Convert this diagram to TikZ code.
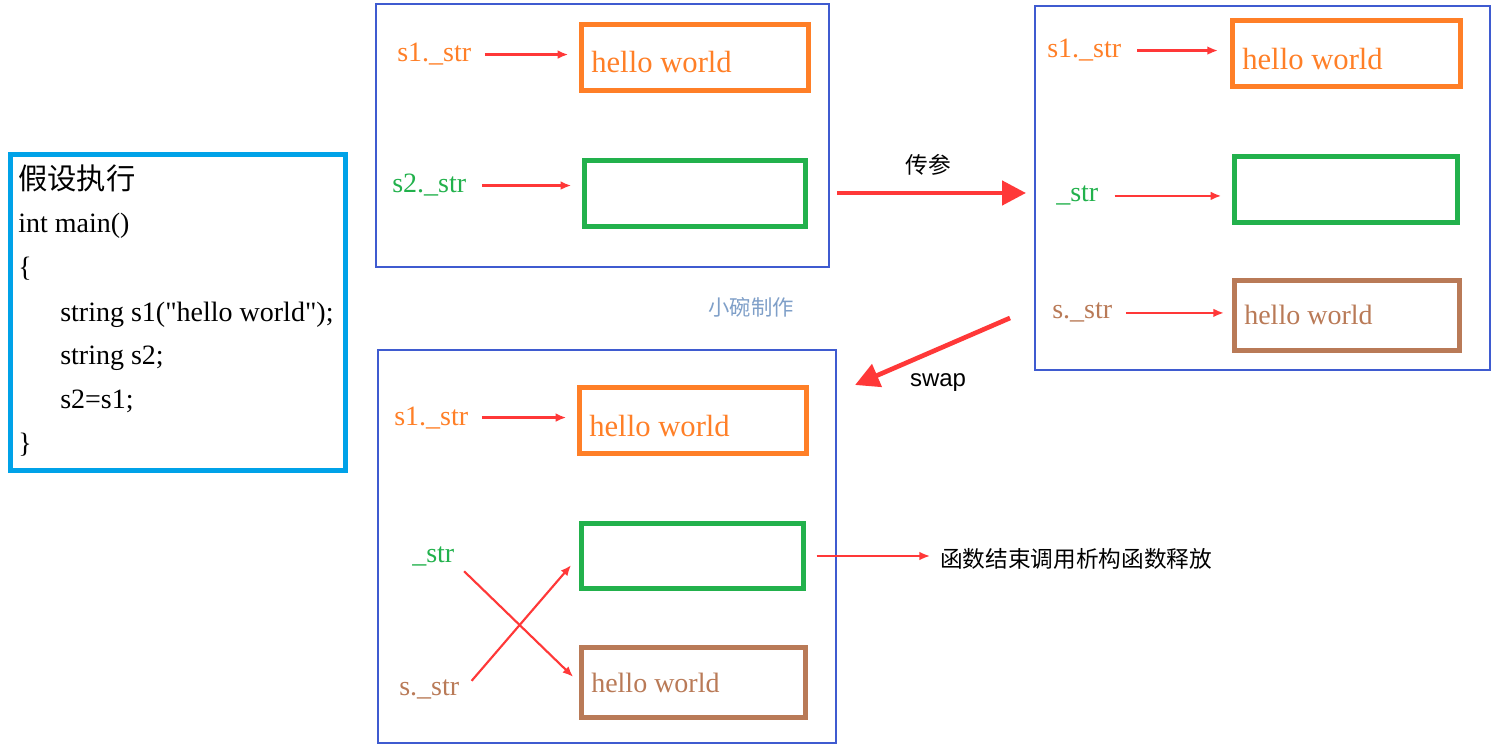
\documentclass[tikz,border=0pt]{standalone}
\usepackage{fontspec}
\setmainfont{Liberation Serif}
\newfontfamily\codefont{Liberation Serif}
\newfontfamily\cjk{Noto Sans CJK SC}
\newfontfamily\sanss{Liberation Sans}
\usetikzlibrary{arrows.meta}
\definecolor{orng}{HTML}{FF7F27}
\definecolor{grn}{HTML}{22B14C}
\definecolor{brn}{HTML}{B97A57}
\definecolor{cyn}{HTML}{00A2E8}
\definecolor{pblue}{HTML}{3F5BD0}
\definecolor{arred}{HTML}{FF3838}
\definecolor{wmark}{HTML}{7F9FC8}
\begin{document}
\begin{tikzpicture}[x=0.75pt,y=-0.75pt,
  panel/.style={draw=pblue,line width=0.9pt,inner sep=0pt},
  membox/.style={draw,line width=3.75pt,inner sep=0pt},
  txt/.style={inner sep=0pt,anchor=base west},
  lbl/.style={txt,font=\fontsize{21}{25}\selectfont},
  hwb/.style={txt,font=\fontsize{23}{27}\selectfont},
  hws/.style={txt,font=\fontsize{21}{25}\selectfont},
  code/.style={txt,font=\codefont\fontsize{21}{25}\selectfont},
  ar/.style={draw=arred,line width=1.7pt,-{Latex[length=8pt,width=6.5pt]}},
  bigar/.style={draw=arred,line width=3.5pt,-{Triangle[length=18pt,width=18pt]}},
  cjklbl/.style={inner sep=0pt,font=\cjk\fontsize{17}{20}\selectfont}
]
\useasboundingbox (0,0) rectangle (1501,755);

% code box
\node[draw=cyn,line width=3.75pt,inner sep=0pt,minimum width=251.25pt,minimum height=237pt] (code) at (178,312.5) {};
\node[txt,font=\cjk\fontsize{22}{26}\selectfont] (c0) at (18,190) {假设执行};
\node[code] (c1) at (18,233) {int main()};
\node[code] (c2) at (18,277) {\{};
\node[code] (c3) at (60,321) {string s1("hello world");};
\node[code] (c4) at (60,364) {string s2;};
\node[code] (c5) at (60,408) {s2=s1;};
\node[code] (c6) at (18,452) {\}};

% panels
\node[panel,minimum width=339.75pt,minimum height=197.25pt] (P1) at (602.5,135.5) {};
\node[panel,minimum width=341.25pt,minimum height=273pt] (P2) at (1262.5,188) {};
\node[panel,minimum width=343.5pt,minimum height=294.75pt] (P3) at (607,546.5) {};

% top panel
\node[membox,draw=orng,minimum width=170.25pt,minimum height=49.5pt] (O1) at (695,57.5) {};
\node[membox,draw=grn,minimum width=165.75pt,minimum height=49.5pt] (G1) at (695,193.5) {};
\node[hwb,text=orng] (t1) at (591,73) {hello world};
\node[lbl,text=orng] (l1) at (397,62) {s1.\_str};
\node[lbl,text=grn] (l2) at (392,193) {s2.\_str};
\draw[ar,shorten <=10pt,shorten >=8pt] (l1.east) -- (l1.east -| O1.west);
\draw[ar,shorten <=12pt,shorten >=8pt] (l2.east) -- (l2.east -| G1.west);

% right panel
\node[membox,draw=orng,minimum width=171pt,minimum height=49.5pt] (O2) at (1346.5,53.5) {};
\node[membox,draw=grn,minimum width=167.25pt,minimum height=49.5pt] (G2) at (1346,189.5) {};
\node[membox,draw=brn,minimum width=168.75pt,minimum height=52.5pt] (B2) at (1347,315.5) {};
\node[hwb,text=orng] (t2) at (1242,70) {hello world};
\node[hws,text=brn] (t3) at (1244,325) {hello world};
\node[lbl,text=orng] (l3) at (1047,58) {s1.\_str};
\node[lbl,text=grn] (l4) at (1056,202) {\_str};
\node[lbl,text=brn] (l5) at (1052,319) {s.\_str};
\draw[ar,shorten <=12pt,shorten >=9pt] (l3.east) -- (l3.east -| O2.west);
\draw[ar,shorten <=12pt,shorten >=8pt] (l4.east) -- (l4.east -| G2.west);
\draw[ar,shorten <=10pt,shorten >=6pt] (l5.east) -- (l5.east -| B2.west);

% bottom panel
\node[membox,draw=orng,minimum width=170.25pt,minimum height=49.5pt] (O3) at (693,420.5) {};
\node[membox,draw=grn,minimum width=166.5pt,minimum height=48.75pt] (G3) at (692.5,556) {};
\node[membox,draw=brn,minimum width=168pt,minimum height=52.5pt] (B3) at (693.5,682.5) {};
\node[hwb,text=orng] (t4) at (589,436) {hello world};
\node[hws,text=brn] (t5) at (591,692) {hello world};
\node[lbl,text=orng] (l6) at (394,425) {s1.\_str};
\node[lbl,text=grn] (l7) at (412,562) {\_str};
\node[lbl,text=brn] (l8) at (399,695) {s.\_str};
\draw[ar,shorten <=10pt,shorten >=8pt] (l6.east) -- (l6.east -| O3.west);
\draw[ar,line width=1.6pt,shorten <=10pt,shorten >=6pt] (l7.base east) -- (B3.west);
\draw[ar,line width=1.6pt,shorten <=14pt,shorten >=9pt] (l8.base east) -- (G3.west);

% destructor
\node[cjklbl,anchor=west] (dt) at (940,559) {函数结束调用析构函数释放};
\draw[ar,line width=1.4pt,shorten <=8pt,shorten >=7.5pt] (G3.east) -- (G3.east -| dt.west);

% big arrows
\coordinate (pa) at (837,193);
\coordinate (pb) at (1026,193);
\draw[bigar] (pa) -- (pb);
\node[cjklbl] (chuan) at (928,165) {传参};
\coordinate (sa) at (1010,318);
\coordinate (sb) at (855,385);
\draw[bigar] (sa) -- (sb);
\node[inner sep=0pt,font=\sanss\fontsize{18}{21}\selectfont] (swap) at (938,383) {swap};

% watermark
\node[inner sep=0pt,text=wmark,font=\cjk\fontsize{16}{19}\selectfont] (wm) at (751,307) {小碗制作};
\end{tikzpicture}
\end{document}
